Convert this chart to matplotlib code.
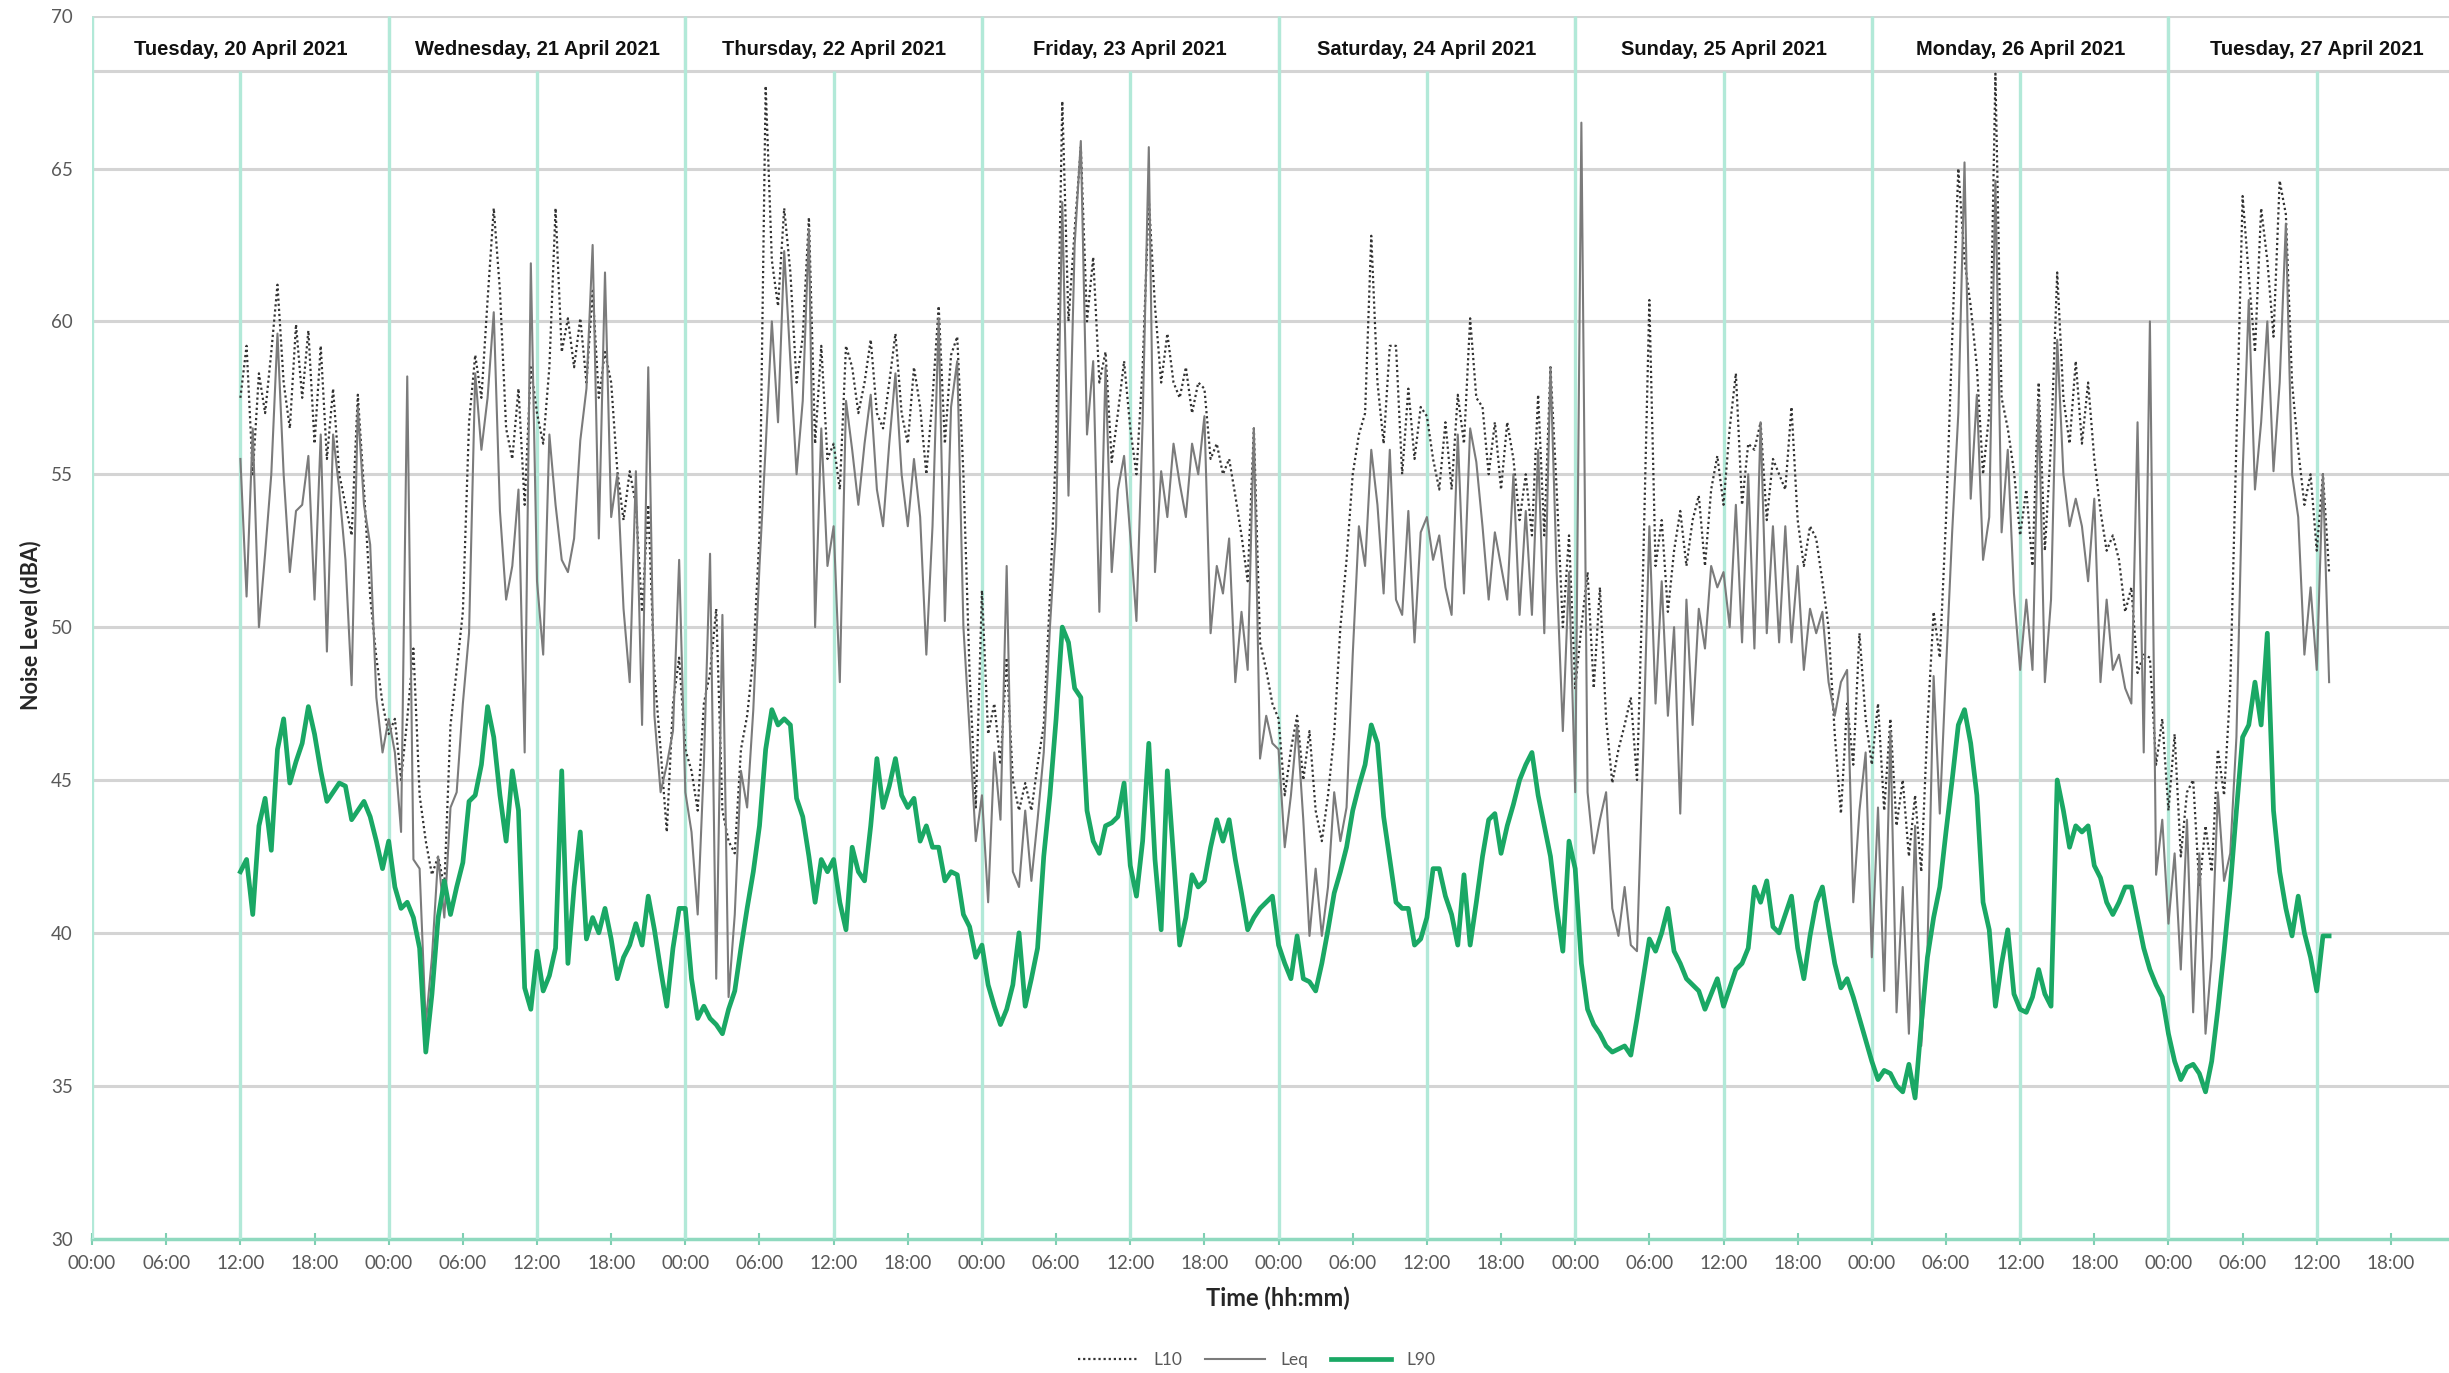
import numpy as np
import matplotlib
matplotlib.use("Agg")
import matplotlib.pyplot as plt
from matplotlib.patches import Rectangle

# -----------------------------
# 1. Data
# time axis: hours from Tue 20 April 2021 00:00
# all series every 30 min, first sample Tue 12:00
# one row = 6 hours
# -----------------------------
start_hour = 12.0
step = 0.5

day_labels = [
    "Tuesday, 20 April 2021", "Wednesday, 21 April 2021", "Thursday, 22 April 2021",
    "Friday, 23 April 2021", "Saturday, 24 April 2021", "Sunday, 25 April 2021",
    "Monday, 26 April 2021", "Tuesday, 27 April 2021",
]

leq = [
    55.5, 51.0, 56.5, 50.0, 52.4, 55.0, 59.6, 55.0, 51.8, 53.8, 54.0, 55.6,
    50.9, 56.3, 49.2, 56.3, 54.5, 52.2, 48.1, 57.2, 54.0, 52.7, 47.7, 45.9,
    47.0, 45.9, 43.3, 58.2, 42.4, 42.1, 37.0, 39.2, 42.5, 40.5, 44.1, 44.6,
    47.5, 49.8, 58.3, 55.8, 57.5, 60.3, 53.8, 50.9, 52.0, 54.5, 45.9, 61.9,
    51.5, 49.1, 56.3, 54.0, 52.2, 51.8, 52.9, 56.1, 57.8, 62.5, 52.9, 61.6,
    53.6, 55.0, 50.6, 48.2, 55.1, 46.8, 58.5, 47.1, 44.6, 45.5, 46.6, 52.2,
    44.6, 43.3, 40.6, 45.5, 52.4, 38.5, 50.4, 37.9, 40.6, 45.3, 44.1, 47.3,
    52.0, 55.9, 60.0, 56.7, 62.3, 58.7, 55.0, 57.4, 63.0, 50.0, 56.5, 52.0,
    53.3, 48.2, 57.4, 55.8, 54.0, 56.0, 57.6, 54.5, 53.3, 56.0, 58.3, 55.0,
    53.3, 55.5, 53.6, 49.1, 53.3, 60.1, 50.2, 57.2, 58.7, 50.0, 46.6, 43.0,
    44.5, 41.0, 45.9, 43.7, 52.0, 42.0, 41.5, 44.0, 41.7, 43.7, 45.9, 50.0,
    53.3, 63.9, 54.3, 62.5, 65.9, 56.3, 58.7, 50.5, 58.5, 51.8, 54.5, 55.6,
    53.0, 50.2, 56.7, 65.7, 51.8, 55.1, 53.6, 56.0, 54.7, 53.6, 56.0, 55.0,
    56.9, 49.8, 52.0, 51.1, 52.9, 48.2, 50.5, 48.6, 56.5, 45.7, 47.1, 46.2,
    46.0, 42.8, 44.5, 46.8, 43.7, 39.9, 42.1, 39.9, 41.5, 44.6, 43.0, 44.1,
    49.1, 53.3, 52.0, 55.8, 54.0, 51.1, 55.8, 50.9, 50.4, 53.8, 49.5, 53.1,
    53.6, 52.2, 53.0, 51.3, 50.4, 56.3, 51.1, 56.5, 55.4, 53.3, 50.9, 53.1,
    52.0, 50.9, 55.0, 50.4, 53.8, 50.4, 55.8, 49.8, 58.5, 51.8, 46.6, 51.8,
    44.6, 66.5, 44.6, 42.6, 43.7, 44.6, 40.8, 39.9, 41.5, 39.6, 39.4, 45.9,
    53.3, 47.5, 51.5, 47.1, 50.0, 43.9, 50.9, 46.8, 50.6, 49.3, 52.0, 51.3,
    51.8, 50.0, 54.0, 49.5, 55.0, 49.3, 56.7, 49.8, 53.3, 49.5, 53.3, 49.5,
    52.0, 48.6, 50.6, 49.8, 50.5, 48.2, 47.1, 48.2, 48.6, 41.0, 44.0, 45.9,
    39.2, 44.1, 38.1, 46.6, 37.4, 41.5, 36.7, 43.5, 36.3, 39.4, 48.4, 43.9,
    48.6, 53.1, 57.0, 65.2, 54.2, 57.6, 52.2, 53.6, 64.6, 53.1, 55.8, 51.1,
    48.6, 50.9, 48.6, 57.4, 48.2, 50.9, 59.4, 55.0, 53.3, 54.2, 53.3, 51.5,
    54.2, 48.2, 50.9, 48.6, 49.1, 48.0, 47.5, 56.7, 45.9, 60.0, 41.9, 43.7,
    40.3, 42.6, 38.8, 43.7, 37.4, 42.6, 36.7, 39.2, 44.6, 41.7, 42.6, 46.4,
    55.0, 60.7, 54.5, 56.7, 60.0, 55.1, 58.0, 63.2, 55.0, 53.6, 49.1, 51.3,
    48.6, 55.0, 48.2,
]

l10 = [
    57.5, 59.2, 55.0, 58.3, 57.0, 59.0, 61.2, 58.0, 56.5, 59.9, 57.5, 59.7,
    56.0, 59.2, 55.5, 57.8, 55.0, 54.0, 53.0, 57.6, 54.5, 51.0, 49.0, 47.5,
    46.5, 47.0, 45.0, 47.0, 49.3, 44.5, 43.0, 41.9, 42.5, 41.5, 46.8, 48.6,
    50.5, 56.7, 58.9, 57.5, 60.7, 63.7, 61.0, 56.5, 55.5, 57.8, 54.0, 58.5,
    57.0, 56.0, 58.5, 63.7, 59.0, 60.1, 58.5, 60.1, 58.0, 61.0, 57.5, 59.0,
    58.0, 55.1, 53.5, 55.1, 54.0, 50.5, 54.0, 48.5, 46.0, 43.3, 47.5, 49.0,
    46.0, 45.3, 44.0, 47.5, 48.5, 50.6, 44.0, 43.0, 42.6, 46.0, 47.1, 49.0,
    53.0, 67.7, 62.0, 60.5, 63.7, 61.6, 58.0, 59.5, 63.4, 56.0, 59.2, 55.5,
    56.0, 54.5, 59.2, 58.5, 57.0, 58.0, 59.4, 57.0, 56.5, 58.0, 59.6, 57.0,
    56.0, 58.5, 57.2, 55.0, 57.5, 60.5, 56.0, 58.9, 59.5, 55.0, 48.5, 44.1,
    51.2, 46.5, 47.5, 45.5, 49.0, 45.0, 44.0, 44.9, 44.0, 45.5, 46.8, 51.0,
    56.0, 67.2, 60.0, 63.0, 65.7, 60.0, 62.1, 58.0, 59.0, 55.4, 57.0, 58.7,
    56.5, 55.0, 58.5, 64.0, 60.5, 58.0, 59.6, 58.0, 57.5, 58.5, 57.0, 58.0,
    57.8, 55.5, 56.0, 55.0, 55.5, 54.3, 53.0, 51.5, 56.5, 49.5, 48.6, 47.5,
    47.0, 44.5, 46.0, 47.1, 45.0, 46.6, 44.0, 43.0, 44.5, 46.5, 50.0, 52.2,
    55.0, 56.3, 57.0, 62.8, 58.0, 56.0, 59.2, 59.2, 55.0, 57.8, 55.5, 57.2,
    56.9, 55.5, 54.5, 56.7, 54.5, 57.6, 56.0, 60.1, 57.5, 57.2, 55.0, 56.7,
    54.5, 56.7, 55.5, 53.5, 55.0, 53.0, 57.6, 53.0, 58.5, 54.5, 50.0, 53.0,
    48.0, 50.0, 51.8, 48.0, 51.3, 47.0, 44.9, 46.0, 46.8, 47.7, 45.0, 52.0,
    60.7, 52.0, 53.5, 50.5, 52.5, 53.8, 52.0, 53.5, 54.3, 52.0, 54.5, 55.6,
    54.0, 56.5, 58.3, 54.0, 56.0, 55.8, 56.7, 53.5, 55.5, 55.0, 54.5, 57.2,
    53.5, 52.0, 53.3, 52.9, 51.5, 50.0, 46.5, 43.9, 47.5, 45.5, 49.8, 47.0,
    45.5, 47.5, 44.0, 47.0, 43.5, 45.0, 42.5, 44.5, 42.0, 46.8, 50.5, 49.0,
    53.5, 59.4, 65.0, 62.0, 60.5, 58.5, 55.0, 57.0, 68.1, 57.5, 56.5, 55.1,
    53.0, 54.5, 52.0, 58.0, 52.5, 56.0, 61.6, 57.5, 56.0, 58.7, 56.0, 58.0,
    55.5, 53.8, 52.5, 53.0, 52.2, 50.5, 51.3, 48.5, 49.1, 49.0, 45.5, 47.0,
    44.0, 46.5, 42.5, 44.6, 45.0, 41.5, 43.5, 42.0, 46.0, 44.5, 48.0, 56.0,
    64.1, 61.5, 59.0, 63.7, 62.0, 59.5, 64.6, 63.5, 58.0, 55.8, 54.0, 55.0,
    52.5, 55.0, 51.8,
]

l90 = [
    42.0, 42.4, 40.6, 43.5, 44.4, 42.7, 46.0, 47.0, 44.9, 45.6, 46.2, 47.4,
    46.5, 45.3, 44.3, 44.6, 44.9, 44.8, 43.7, 44.0, 44.3, 43.8, 43.0, 42.1,
    43.0, 41.5, 40.8, 41.0, 40.5, 39.5, 36.1, 38.0, 40.5, 41.7, 40.6, 41.5,
    42.3, 44.3, 44.5, 45.5, 47.4, 46.4, 44.5, 43.0, 45.3, 44.0, 38.2, 37.5,
    39.4, 38.1, 38.6, 39.5, 45.3, 39.0, 41.5, 43.3, 39.8, 40.5, 40.0, 40.8,
    39.8, 38.5, 39.2, 39.6, 40.3, 39.6, 41.2, 40.1, 38.8, 37.6, 39.5, 40.8,
    40.8, 38.5, 37.2, 37.6, 37.2, 37.0, 36.7, 37.5, 38.1, 39.5, 40.8, 42.0,
    43.5, 46.0, 47.3, 46.8, 47.0, 46.8, 44.4, 43.8, 42.5, 41.0, 42.4, 42.0,
    42.4, 41.0, 40.1, 42.8, 42.0, 41.7, 43.5, 45.7, 44.1, 44.8, 45.7, 44.5,
    44.1, 44.4, 43.0, 43.5, 42.8, 42.8, 41.7, 42.0, 41.9, 40.6, 40.2, 39.2,
    39.6, 38.3, 37.6, 37.0, 37.5, 38.3, 40.0, 37.6, 38.5, 39.5, 42.5, 44.5,
    47.0, 50.0, 49.5, 48.0, 47.7, 44.0, 43.0, 42.6, 43.5, 43.6, 43.8, 44.9,
    42.2, 41.2, 43.0, 46.2, 42.4, 40.1, 45.3, 42.5, 39.6, 40.5, 41.9, 41.5,
    41.7, 42.8, 43.7, 43.0, 43.7, 42.4, 41.3, 40.1, 40.5, 40.8, 41.0, 41.2,
    39.6, 39.0, 38.5, 39.9, 38.5, 38.4, 38.1, 39.0, 40.1, 41.3, 42.0, 42.8,
    44.0, 44.8, 45.5, 46.8, 46.2, 43.8, 42.4, 41.0, 40.8, 40.8, 39.6, 39.8,
    40.5, 42.1, 42.1, 41.2, 40.6, 39.6, 41.9, 39.6, 41.0, 42.5, 43.7, 43.9,
    42.6, 43.5, 44.2, 45.0, 45.5, 45.9, 44.5, 43.5, 42.5, 40.8, 39.4, 43.0,
    42.1, 39.0, 37.5, 37.0, 36.7, 36.3, 36.1, 36.2, 36.3, 36.0, 37.2, 38.5,
    39.8, 39.4, 40.0, 40.8, 39.4, 39.0, 38.5, 38.3, 38.1, 37.5, 38.0, 38.5,
    37.6, 38.2, 38.8, 39.0, 39.5, 41.5, 41.0, 41.7, 40.2, 40.0, 40.6, 41.2,
    39.5, 38.5, 39.9, 41.0, 41.5, 40.2, 39.0, 38.2, 38.5, 37.9, 37.2, 36.5,
    35.8, 35.2, 35.5, 35.4, 35.0, 34.8, 35.7, 34.6, 37.0, 39.2, 40.5, 41.5,
    43.3, 45.0, 46.8, 47.3, 46.2, 44.5, 41.0, 40.1, 37.6, 39.0, 40.1, 38.0,
    37.5, 37.4, 37.9, 38.8, 38.0, 37.6, 45.0, 44.0, 42.8, 43.5, 43.3, 43.5,
    42.2, 41.8, 41.0, 40.6, 41.0, 41.5, 41.5, 40.5, 39.5, 38.8, 38.3, 37.9,
    36.7, 35.8, 35.2, 35.6, 35.7, 35.4, 34.8, 35.8, 37.5, 39.4, 41.5, 44.0,
    46.4, 46.8, 48.2, 46.8, 49.8, 44.0, 42.0, 40.8, 39.9, 41.2, 40.0, 39.2,
    38.1, 39.9, 39.9,
]

t_leq = start_hour + step * np.arange(len(leq))
t_l10 = start_hour + step * np.arange(len(l10))
t_l90 = start_hour + step * np.arange(len(l90))

# -----------------------------
# 2. Figure / axes
# -----------------------------
grid_grey = "#d4d4d4"
teal = "#b2e9d8"
text_grey = "#595959"

fig = plt.figure(figsize=(24.49, 13.73), dpi=100)
ax = fig.add_axes([0.0376, 0.0979, 0.9624, 0.8907])

x_max = 190.7
ax.set_xlim(0, x_max)
ax.set_ylim(30, 70)

for s in ["top", "right", "left"]:
    ax.spines[s].set_visible(False)
ax.spines["bottom"].set_color("#8fd9bf")
ax.spines["bottom"].set_linewidth(2.5)

# horizontal grid
ax.hlines(range(35, 70, 5), 0, x_max, color=grid_grey, lw=2.2, zorder=1)

# day header boxes
header_low = 68.2
for d, lab in enumerate(day_labels):
    ax.add_patch(Rectangle((24 * d, header_low), 24, 70 - header_low,
                           facecolor="white", edgecolor=grid_grey, lw=2.2, zorder=2))
    ax.text(24 * d + 12, 68.9, lab, ha="center", va="center", fontsize=14.5,
            fontweight="bold", family="Liberation Sans", color="#111111", zorder=6)

# vertical grid every 12 h
for h in range(0, 192, 12):
    top = 70 if h % 24 == 0 else header_low
    ax.vlines(h, 30, top, color=teal, lw=2.4, zorder=3)

# -----------------------------
# 3. Series
# -----------------------------
ax.plot(t_l10, l10, color="#333333", lw=1.6, ls=(0, (1, 1.3)), label="L10", zorder=4)
ax.plot(t_leq, leq, color="#7b7b7b", lw=1.5, label="Leq", zorder=5)
ax.plot(t_l90, l90, color="#1aa865", lw=3.4, label="L90", zorder=6)

# -----------------------------
# 4. Ticks / labels
# -----------------------------
xt = np.arange(0, 190, 6)
ax.set_xticks(xt)
ax.set_xticklabels([f"{int(h % 24):02d}:00" for h in xt])
ax.set_yticks(range(30, 75, 5))
ax.tick_params(axis="x", direction="inout", length=8, width=1.5, color="#7fcfb2",
               pad=8, labelsize=13.5, labelcolor=text_grey)
ax.tick_params(axis="y", length=0, pad=14, labelsize=13.5, labelcolor=text_grey)
for lab in ax.get_xticklabels() + ax.get_yticklabels():
    lab.set_family("Lato")

fig.text(1278 / 2449, 1 - 1298 / 1373, "Time (hh:mm)", ha="center", va="center",
         fontsize=17, fontweight="bold", family="Lato", color="#262626")
fig.text(31 / 2449, 1 - 625 / 1373, "Noise Level (dBA)", ha="center", va="center",
         rotation=90, fontsize=15.5, fontweight="bold", family="Lato", color="#262626")

fig.legend(loc="center", bbox_to_anchor=(0.513, 0.0095), ncol=3, frameon=False,
           handlelength=3.5, handletextpad=0.85, columnspacing=1.3,
           labelcolor=text_grey, prop={"family": "Lato", "size": 12.5})

fig.savefig("out.png", dpi=100)
